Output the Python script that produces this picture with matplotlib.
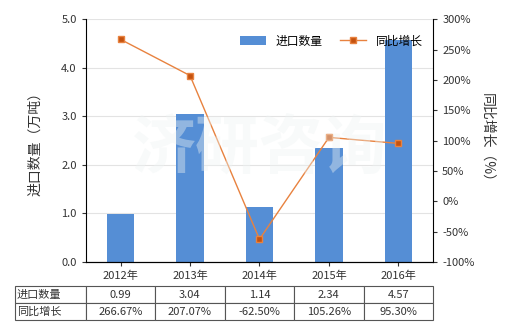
import numpy as np
import matplotlib
matplotlib.use('Agg')
import matplotlib.pyplot as plt

plt.rcParams['font.family'] = ['Noto Sans CJK SC', 'DejaVu Sans']

# data
years = ['2012年', '2013年', '2014年', '2015年', '2016年']
qty = [0.99, 3.04, 1.14, 2.34, 4.57]          # 进口数量（万吨）
growth = [266.67, 207.07, -62.50, 105.26, 95.30]  # 同比增长（%）
qty_txt = ['0.99', '3.04', '1.14', '2.34', '4.57']
growth_txt = ['266.67%', '207.07%', '-62.50%', '105.26%', '95.30%']

bar_col = '#558ED5'
line_col = '#E8823F'
mark_col = '#C4520F'
txt_col = '#333333'

fig = plt.figure(figsize=(5.2, 3.3), dpi=100)
ax = fig.add_axes([0.165, 0.206, 0.668, 0.736])
x = np.arange(len(years))

ax.bar(x, qty, 0.4, color=bar_col, label='进口数量', zorder=2)
ax.set_ylim(0, 5)
ax.set_yticks(np.arange(0, 5.01, 1.0))
ax.set_yticklabels(['%.1f' % v for v in np.arange(0, 5.01, 1.0)])
ax.set_xlim(-0.5, 4.5)
ax.set_xticks(x)
ax.set_xticklabels(years)
ax.grid(axis='y', color='#e3e3e3', lw=0.8, zorder=0)
ax.set_ylabel('进口数量（万吨）', fontsize=10, color=txt_col, labelpad=14)
for s in ['top', 'right']:
    ax.spines[s].set_visible(False)
ax.tick_params(labelsize=8, colors=txt_col, length=3)

ax2 = ax.twinx()
ax2.plot(x, growth, color=line_col, lw=1, marker='s', ms=4,
         mfc=mark_col, mec=line_col, label='同比增长', zorder=3)
ax2.set_ylim(-100, 300)
ax2.set_yticks(np.arange(-100, 301, 50))
ax2.set_yticklabels(['%d%%' % v for v in np.arange(-100, 301, 50)])
ax2.set_ylabel('同比增长（%）', fontsize=10, color=txt_col, rotation=270, labelpad=14)
for s in ['top', 'left']:
    ax2.spines[s].set_visible(False)
ax2.tick_params(labelsize=8, colors=txt_col, length=3)

# watermark, drawn over the bars so they look washed out underneath
fig.text(0.50, 0.55, '济研咨询', fontsize=46, color='#eef3f3', alpha=0.4,
         ha='center', va='center', zorder=10, fontweight='bold')

h1, l1 = ax.get_legend_handles_labels()
h2, l2 = ax2.get_legend_handles_labels()
ax.legend(h1 + h2, l1 + l2, loc='upper right', bbox_to_anchor=(1.0, 0.98),
          ncol=2, frameon=False, fontsize=8.5, handlelength=2.2, columnspacing=1.5)

# data table under the chart
cells = [['进口数量'] + qty_txt, ['同比增长'] + growth_txt]
tb = ax.table(cellText=cells, cellLoc='center',
              colWidths=[71 / 418] + [69.4 / 418] * 5,
              bbox=[-0.205, -0.239, 1.205, 0.14])
tb.auto_set_font_size(False)
tb.set_fontsize(8)
for (r, c), cell in tb.get_celld().items():
    cell.set_edgecolor('#555555')
    cell.set_linewidth(0.8)
    cell.get_text().set_color(txt_col)
    if c == 0:
        cell.get_text().set_ha('left')
        cell._loc = 'left'
        cell.PAD = 0.03

fig.savefig('out.png', dpi=100)
